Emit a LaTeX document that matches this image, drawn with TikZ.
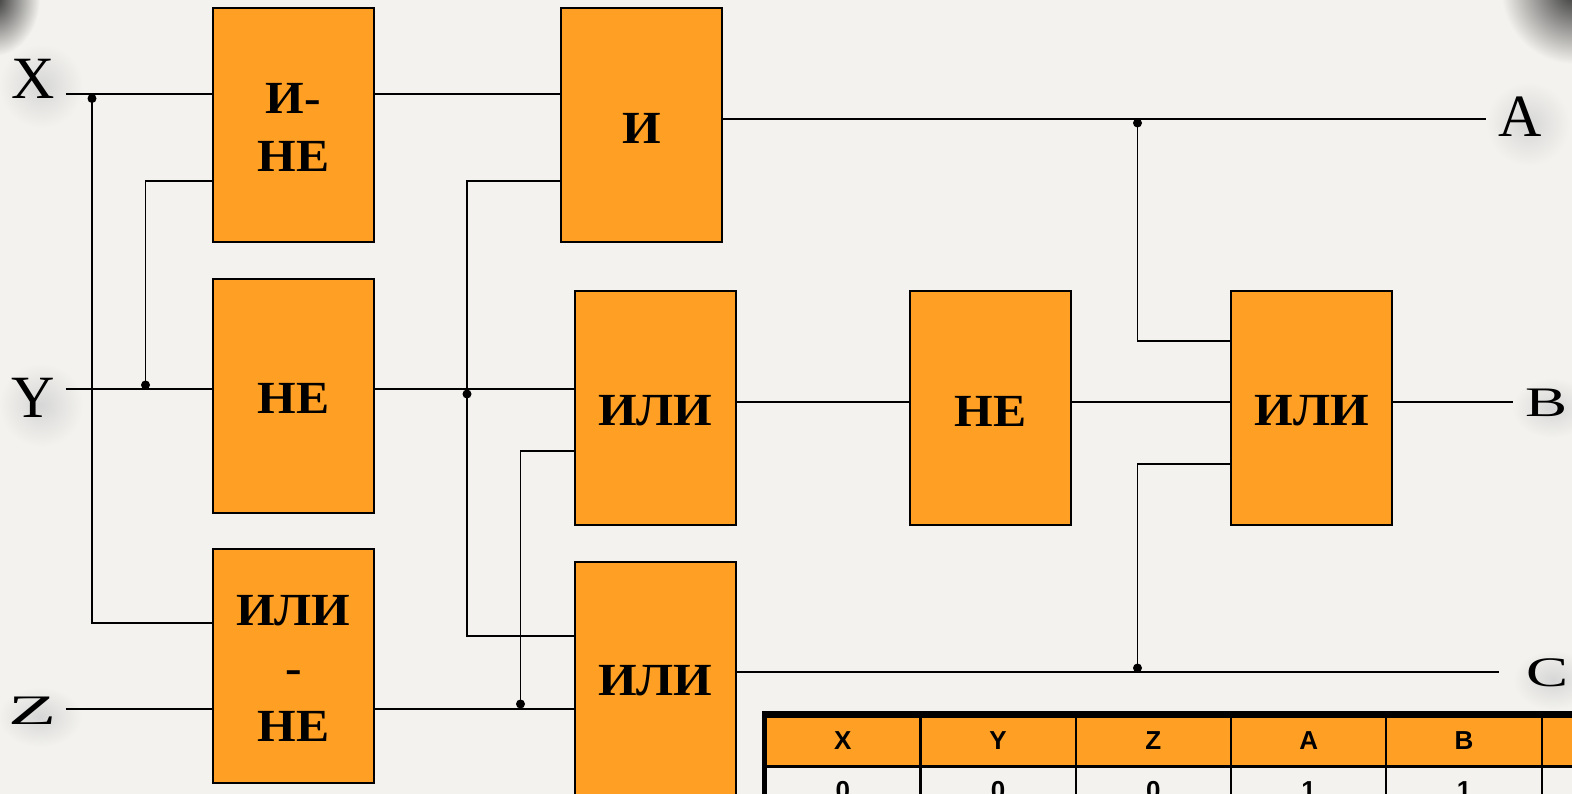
\documentclass[tikz,border=0pt]{standalone}
\usepackage{fontspec}
\setmainfont{Liberation Serif}
\setsansfont{Liberation Sans}
\definecolor{paper}{HTML}{F3F2EE}
\definecolor{gateorange}{HTML}{FFA024}
\tikzset{
  gate/.style={draw=black, line width=1.9pt, fill=gateorange, minimum width=161pt, minimum height=234pt,
    inner sep=0pt, align=center, font=\fontsize{46}{58}\selectfont\bfseries},
  gatetext/.style={inner sep=0pt, align=center, xscale=1.08, transform shape, font=\fontsize{46}{58}\selectfont\bfseries},
  wire/.style={line width=1.8pt},
  jdot/.style={circle, fill=black, inner sep=0pt, minimum size=9pt},
  biglabel/.style={inner sep=0pt, font=\fontsize{60}{60}\selectfont},
  smalllabel/.style={inner sep=0pt, xscale=1.5, transform shape, font=\fontsize{42}{42}\selectfont},
  softshadow/.style={shade, inner color=black!16, outer color=paper},
  headcell/.style={draw=black, line width=2.2pt, fill=gateorange, minimum width=155.3pt, minimum height=50pt,
    inner sep=0pt, font=\sffamily\bfseries\fontsize{26}{26}\selectfont},
  datacell/.style={headcell, fill=none}
}
\begin{document}
\begin{tikzpicture}[x=1pt, y=-1pt]
\useasboundingbox (0,0) rectangle (1572,794);
\clip (0,0) rectangle (1572,794);
% Фон и тёмные пятна в углах
\fill[paper] (0,0) rectangle (1572,794);
\shade[inner color=black!80, outer color=paper] (-6,-2) ellipse (46 and 58);
\shade[inner color=black!80, outer color=paper] (1575,-10) circle (74);

% Тени под буквами
\path[softshadow] (41,86) ellipse (42 and 42);
\path[softshadow] (41,405) ellipse (42 and 42);
\path[softshadow] (40,717) ellipse (42 and 30);
\path[softshadow] (1528,124) ellipse (42 and 42);
\path[softshadow] (1552,408) ellipse (40 and 30);
\path[softshadow] (1553,680) ellipse (40 and 30);

% Входы и выходы
\node[biglabel] (inx) at (33,79) {X};
\node[biglabel] (iny) at (33,398) {Y};
\node[smalllabel, xscale=1.25] (inz) at (33,711) {Z};
\node[biglabel] (outa) at (1520.5,117) {A};
\node[smalllabel] (outb) at (1546.5,403) {B};
\node[smalllabel] (outc) at (1547,673) {C};
\coordinate (xs) at (65.5,94.3);
\coordinate (ys) at (65.5,389);
\coordinate (zs) at (65.5,709);
\coordinate (ae) at (1486,119);
\coordinate (be) at (1513,402);
\coordinate (ce) at (1499,672);

% Элементы
\node[gate] (nand) at (293.3,125.4) {};
\node[gatetext] at (293.3,127) {И-\\НЕ};
\node[gate] (noty) at (293.3,396) {};
\node[gatetext] at (293.3,398) {НЕ};
\node[gate] (nor) at (293.3,666.2) {};
\node[gatetext] at (293.3,668) {ИЛИ\\-\\НЕ};
\node[gate] (andg) at (641.7,125.4) {};
\node[gatetext] at (641.7,128) {И};
\node[gate] (orb) at (655.3,408.3) {};
\node[gatetext] at (655.3,411) {ИЛИ};
\node[gate] (orc) at (655.3,679) {};
\node[gatetext] at (655.3,681) {ИЛИ};
\node[gate] (notb) at (990.3,408.3) {};
\node[gatetext] at (990.3,411) {НЕ};
\node[gate] (orout) at (1311.7,408.3) {};
\node[gatetext] at (1311.7,411) {ИЛИ};

% Точки соединений
\node[jdot] (jx) at (92,98.5) {};
\node[jdot] (jy) at (145.5,385) {};
\node[jdot] (jn) at (467,394) {};
\node[jdot] (jz) at (520.5,704) {};
\node[jdot] (ja) at (1137.5,123) {};
\node[jdot] (jc) at (1137.5,668) {};

% Провода
\draw[wire] (xs) -- (xs -| nand.west);
\draw[wire] (ys) -- (ys -| noty.west);
\draw[wire] (zs) -- (zs -| nor.west);
\draw[wire] (jx.center) |- (nor.west |- 0,622.7);
\draw[wire] (jy.center) |- (nand.west |- 0,181);
\draw[wire] (nand.east |- xs) -- (andg.west |- xs);
\draw[wire] (noty.east |- ys) -- (orb.west |- ys);
\draw[wire] (nor.east |- zs) -- (orc.west |- zs);
\draw[wire] (andg.west |- 0,181) -| (jn.center) |- (orc.west |- 0,635.6);
\draw[wire] (jz.center) |- (orb.west |- 0,451);
\draw[wire] (andg.east |- ae) -- (ae);
\draw[wire] (ja.center) |- (orout.west |- 0,341);
\draw[wire] (orb.east |- be) -- (notb.west |- be);
\draw[wire] (notb.east |- be) -- (orout.west |- be);
\draw[wire] (orout.east |- be) -- (be);
\draw[wire] (orc.east |- ce) -- (ce);
\draw[wire] (jc.center) |- (orout.west |- 0,464);

% Таблица
\foreach \n/\t [count=\i from 0] in {x/X,y/Y,z/Z,a/A,b/B,c/{}} {
    \node[headcell] (h\n) at ({842.8+155.3*\i},741.5) {\raisebox{2pt}{\t}};
}
\foreach \n/\t [count=\i from 0] in {x/0,y/0,z/0,a/1,b/1,c/{}} {
    \node[datacell] (d\n) at ({842.8+155.3*\i},791) {\t};
}
\fill[black] (762.3,711) rectangle (1572,717);
\fill[black] (762.3,711) rectangle (767,794);
\end{tikzpicture}
\end{document}
